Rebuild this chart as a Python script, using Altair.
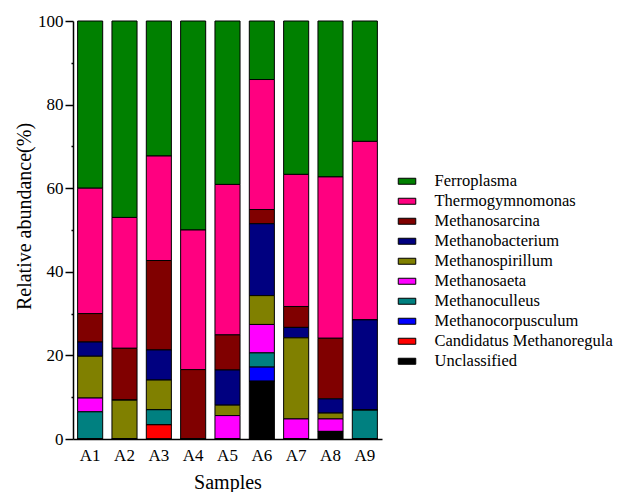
import altair as alt
import pandas as pd

samples = ["A1", "A2", "A3", "A4", "A5", "A6", "A7", "A8", "A9"]
genera = ["Ferroplasma", "Thermogymnomonas", "Methanosarcina", "Methanobacterium",
          "Methanospirillum", "Methanosaeta", "Methanoculleus", "Methanocorpusculum",
          "Candidatus Methanoregula", "Unclassified"]
colors = ["#008000", "#FF0080", "#800000", "#000080", "#808000", "#FF00FF",
          "#008080", "#0000FF", "#FF0000", "#000000"]

ferroplasma        = [40.0, 47.0, 32.3, 50.0, 39.1, 14.0, 36.7, 37.3, 28.8]
thermogymnomonas   = [30.0, 31.3, 25.0, 33.4, 36.0, 31.1, 31.6, 38.6, 42.7]
methanosarcina     = [6.8, 12.4, 21.4, 16.6, 8.4, 3.4, 5.0, 14.5, 0.0]
methanobacterium   = [3.4, 0.0, 7.2, 0.0, 8.4, 17.2, 2.5, 3.4, 21.6]
methanospirillum   = [10.0, 9.3, 7.1, 0.0, 2.5, 6.9, 19.4, 1.4, 0.0]
methanosaeta       = [3.3, 0.0, 0.0, 0.0, 5.6, 6.8, 4.8, 3.0, 0.0]
methanoculleus     = [6.5, 0.0, 3.6, 0.0, 0.0, 3.4, 0.0, 0.0, 6.9]
methanocorpusculum = [0.0, 0.0, 0.0, 0.0, 0.0, 3.4, 0.0, 0.0, 0.0]
candidatus         = [0.0, 0.0, 3.4, 0.0, 0.0, 0.0, 0.0, 0.0, 0.0]
unclassified       = [0.0, 0.0, 0.0, 0.0, 0.0, 13.8, 0.0, 1.8, 0.0]

series = [ferroplasma, thermogymnomonas, methanosarcina, methanobacterium,
          methanospirillum, methanosaeta, methanoculleus, methanocorpusculum,
          candidatus, unclassified]

rows = []
for gi, (g, vals) in enumerate(zip(genera, series)):
    for s, v in zip(samples, vals):
        rows.append({"Sample": s, "Genus": g, "Value": v,
                     "order": len(genera) - 1 - gi})
df = pd.DataFrame(rows)

FONT = "Liberation Serif, Times New Roman, serif"

chart = alt.Chart(df).mark_bar(stroke="black", strokeWidth=1).encode(
    x=alt.X("Sample:N", sort=samples, title="Samples",
            scale=alt.Scale(paddingInner=0.27, paddingOuter=0.135),
            axis=alt.Axis(labelAngle=0, ticks=False, labelPadding=8,
                          labelFont=FONT, titleFont=FONT,
                          labelFontSize=17, titleFontSize=20, titlePadding=9,
                          domainColor="black", domainWidth=1.5,
                          labelColor="black", titleColor="black",
                          titleFontWeight="normal")),
    y=alt.Y("Value:Q", stack="zero", title="Relative abundance(%)",
            scale=alt.Scale(domain=[0, 100], nice=False),
            axis=alt.Axis(values=[0, 10, 20, 30, 40, 50, 60, 70, 80, 90, 100],
                          labelExpr="datum.value % 20 == 0 ? datum.label : ''",
                          tickSize={"condition": {"test": "datum.value % 20 == 0", "value": 8}, "value": 2},
                          tickColor="black", tickWidth=1.5, labelPadding=2,
                          labelFont=FONT, titleFont=FONT,
                          labelFontSize=17, titleFontSize=20,
                          titleX=-39, titleY=195, titleAlign="center",
                          titleBaseline="bottom", titleAngle=270,
                          domainColor="black", domainWidth=1.5, grid=False,
                          labelColor="black", titleColor="black",
                          titleFontWeight="normal")),
    color=alt.Color("Genus:N", scale=alt.Scale(domain=genera, range=colors),
                    legend=alt.Legend(title=None, orient="none", legendX=320, legendY=152,
                                      symbolType="M-0.5,-0.5H2.42V0.5H-0.5Z",
                                      symbolSize=144, symbolStrokeColor="black",
                                      symbolStrokeWidth=1, symbolOpacity=1,
                                      labelOffset=25, labelFontSize=16.5,
                                      labelFont=FONT,
                                      labelColor="black", rowPadding=3,
                                      labelLimit=300)),
    order=alt.Order("order:Q", sort="ascending"),
).properties(
    width=309, height=418,
    autosize=alt.AutoSizeParams(type="none"),
    padding={"left": 65, "top": 13, "right": 240, "bottom": 60},
).configure(font=FONT).configure_view(stroke=None)

chart.save("out.html", embed_options={"renderer": "svg", "actions": False})
